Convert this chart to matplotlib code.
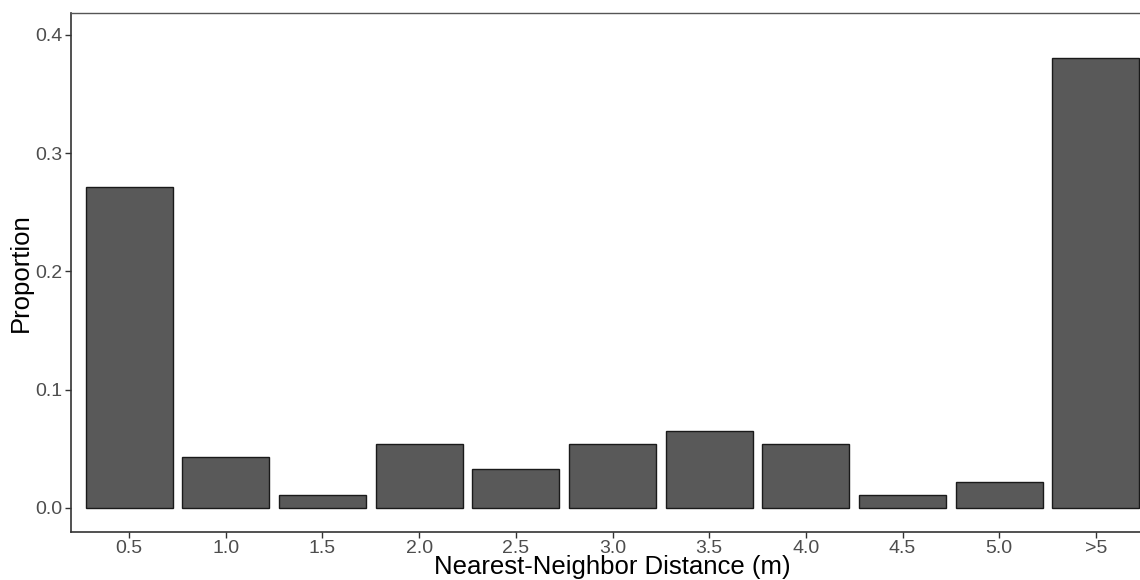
import matplotlib
matplotlib.use("Agg")
import matplotlib.pyplot as plt
import numpy as np

categories = ["0.5", "1.0", "1.5", "2.0", "2.5", "3.0", "3.5", "4.0", "4.5", "5.0", ">5"]
proportions = [0.2717, 0.0435, 0.0109, 0.0543, 0.0326, 0.0543, 0.0652, 0.0543, 0.0109, 0.0217, 0.3804]
yticks = [0.0, 0.1, 0.2, 0.3, 0.4]
ytick_labels = ["0.0", "0.1", "0.2", "0.3", "0.4"]

plt.rcParams['font.family'] = ['Liberation Sans', 'DejaVu Sans']

fig = plt.figure(figsize=(11.4, 5.8), dpi=100)
ax = fig.add_axes([71/1140, 48/580, 1083/1140, 519/580])

x = np.arange(len(categories))
ax.bar(x, proportions, width=0.9, color="#595959", edgecolor="#1a1a1a", linewidth=1.0)

ax.set_xlim(-0.6, len(categories) - 1 + 0.6)
ax.set_ylim(-0.0203, 0.4186)
ax.set_xticks(x)
ax.set_xticklabels(categories)
ax.set_yticks(yticks)
ax.set_yticklabels(ytick_labels)

ax.tick_params(axis="both", which="major", length=4, width=1, color="#333333",
               labelcolor="#4D4D4D", labelsize=14)
ax.tick_params(axis="x", pad=1.5)
ax.tick_params(axis="y", pad=2)

for s in ["left", "bottom"]:
    ax.spines[s].set_color("#333333")
    ax.spines[s].set_linewidth(1.2)
for s in ["top", "right"]:
    ax.spines[s].set_color("#555555")
    ax.spines[s].set_linewidth(1.0)

ax.set_xlabel("Nearest-Neighbor Distance (m)", fontsize=18.5, color="black", labelpad=-1)
ax.set_ylabel("Proportion", fontsize=18.5, color="black", labelpad=2)

fig.savefig("out.png", dpi=100)
